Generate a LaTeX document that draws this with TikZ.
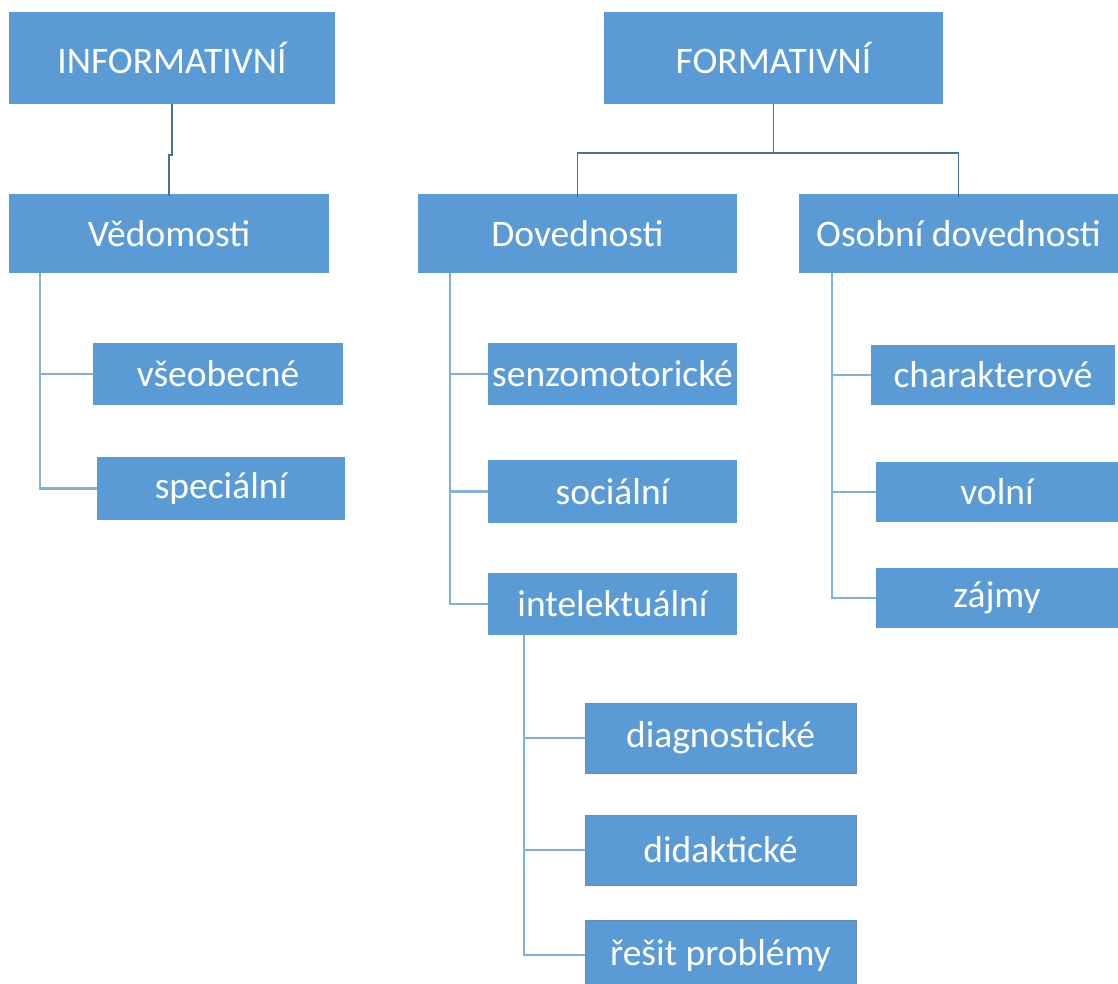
\documentclass[tikz,border=0pt]{standalone}
\usepackage{fontspec}
\setmainfont{Carlito}
\usetikzlibrary{positioning}
\definecolor{boxblue}{HTML}{5B9BD5}
\definecolor{darkline}{HTML}{41719C}
\definecolor{lightline}{HTML}{80B0DE}
\begin{document}
\begin{tikzpicture}[x=1pt, y=-1pt]
      \tikzstyle{element}=[rectangle, fill=boxblue, text=white, inner sep=0pt, outer sep=0pt, anchor=north west, font=\fontsize{37.5}{42}\selectfont]
      \tikzstyle{lower}=[element, draw=darkline!80, line width=0.8pt]
      \tikzstyle{top}=[darkline, line width=1.8pt]
      \tikzstyle{side}=[lightline, line width=2.2pt]
      \useasboundingbox (0,0) rectangle (1118,984);
      \node[element, minimum width=326pt, minimum height=92pt] (inf) at (9,12) {INFORMATIVNÍ};
      \node[element, minimum width=339pt, minimum height=92pt] (form) at (604,12) {FORMATIVNÍ};
      \node[element, minimum width=320pt, minimum height=79pt] (ved) at (9,194) {Vědomosti};
      \node[element, minimum width=319pt, minimum height=79pt] (dov) at (418,194) {Dovednosti};
      \node[element, minimum width=319pt, minimum height=79pt] (osd) at (799,194) {Osobní dovednosti};
      \node[element, minimum width=250pt, minimum height=62pt] (vse) at (93,343) {všeobecné};
      \node[element, minimum width=248pt, minimum height=63pt] (spec) at (97,457) {speciální};
      \node[element, minimum width=249pt, minimum height=62pt] (senz) at (488,343) {senzomotorické};
      \node[element, minimum width=249pt, minimum height=63pt] (soc) at (488,460) {sociální};
      \node[element, minimum width=249pt, minimum height=62pt] (int) at (488,573) {intelektuální};
      \node[element, minimum width=244pt, minimum height=60pt] (char) at (871,345) {charakterové};
      \node[element, minimum width=242pt, minimum height=60pt] (vol) at (876,462) {volní};
      \node[element, minimum width=242pt, minimum height=60pt] (zaj) at (876,568) {zájmy};
      \node[lower, minimum width=271pt, minimum height=70pt] (diag) at (585,703) {diagnostické};
      \node[lower, minimum width=271pt, minimum height=70pt] (did) at (585,815) {didaktické};
      \node[lower, minimum width=271pt, minimum height=70pt] (res) at (585,920) {řešit problémy};
      \draw[top] (inf.south) -- ++(0,51) -| ([yshift=-2pt]ved.north);
      \coordinate (fj) at (772,153);
      \draw[top] (form.south) -- (form.south |- fj);
      \draw[top] ([yshift=-4pt]dov.north) |- (fj) -| ([yshift=-4pt]osd.north);
      \coordinate (vt) at (40,273);
      \draw[side] (vt) |- (spec.west);
      \draw[side] (vt |- vse.west) -- (vse.west);
      \coordinate (dt) at (450,273);
      \draw[side] (dt) |- (int.west);
      \draw[side] (dt |- senz.west) -- (senz.west);
      \draw[side] (dt |- soc.west) -- (soc.west);
      \coordinate (ot) at (832,273);
      \draw[side] (ot) |- (zaj.west);
      \draw[side] (ot |- char.west) -- (char.west);
      \draw[side] (ot |- vol.west) -- (vol.west);
      \coordinate (it) at (524,635);
      \draw[side] (it) |- (res.west);
      \draw[side] (it |- diag.west) -- (diag.west);
      \draw[side] (it |- did.west) -- (did.west);
  \end{tikzpicture}
\end{document}
